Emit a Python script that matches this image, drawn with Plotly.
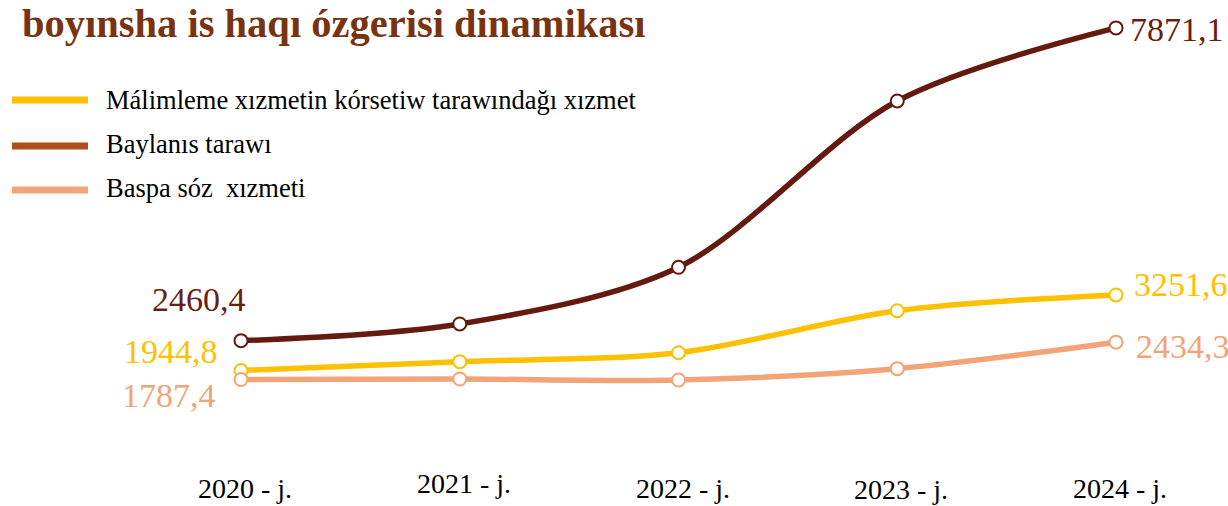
import plotly.graph_objects as go

years = ["2020 - j.", "2021 - j.", "2022 - j.", "2023 - j.", "2024 - j."]
info_service = [1944.8, 2097, 2252, 2979, 3251.6]   # Málimleme xızmetin kórsetiw tarawındağı xızmet
communication = [2460.4, 2749, 3730, 6607, 7871.1]  # Baylanıs tarawı
press_service = [1787.4, 1797, 1780, 1976, 2434.3]  # Baspa sóz  xızmeti

names = ["Málimleme xızmetin kórsetiw tarawındağı xızmet", "Baylanıs tarawı", "Baspa sóz  xızmeti"]
series = [info_service, communication, press_service]
line_colors = ["#FFC000", "#641A0F", "#F2A477"]
legend_colors = ["#FFC000", "#AF4E19", "#F2A477"]
label_colors = ["#FFC000", "#6B1D12", "#F2A477"]

title_text = "boyınsha is haqı ózgerisi dinamikası"

Y0, Y1 = -400, 8354
fig = go.Figure()
xs = list(range(len(years)))
for name, vals, col in zip(names, series, line_colors):
    fig.add_trace(go.Scatter(
        x=xs, y=vals, name=name, mode="lines+markers",
        line=dict(color=col, width=5.5, shape="spline", smoothing=0.9),
        marker=dict(size=13, color="white", line=dict(color=col, width=2)),
        showlegend=False, hoverinfo="skip",
    ))

def fmt(v):
    return f"{v:.1f}".replace(".", ",")

label_font = "Liberation Serif"
first_offsets = [(-21, 19), (7, 41), (-23, -16)]
last_offsets = [(16, 10), (12, -2), (18, -4)]
for vals, col, (fx, fy), (lx, ly) in zip(series, label_colors, first_offsets, last_offsets):
    fig.add_annotation(x=0, y=vals[0], text=fmt(vals[0]), showarrow=False,
                       xanchor="right", yanchor="middle",
                       xshift=fx, yshift=fy, font=dict(family=label_font, size=34, color=col))
    fig.add_annotation(x=4, y=vals[-1], text=fmt(vals[-1]), showarrow=False,
                       xanchor="left", yanchor="middle",
                       xshift=lx, yshift=ly, font=dict(family=label_font, size=34, color=col))

# x category labels (slightly staggered as in original)
tick_shift = [0, 5, 0, -1, 0]
tick_y = Y0 + (506 - 488) * 17.3
for i, (lab, dy) in enumerate(zip(years, tick_shift)):
    fig.add_annotation(x=i, y=tick_y, text=lab, showarrow=False,
                       yanchor="middle", yshift=dy, xshift=4, borderpad=0,
                       font=dict(family=label_font, size=28, color="black"))

# legend drawn manually
legend_y = [1 - 100/506, 1 - 146/506, 1 - 190/506]
text_y = [1 - 100/506, 1 - 144/506, 1 - 188/506]
shapes = []
for name, col, ly, ty in zip(names, legend_colors, legend_y, text_y):
    shapes.append(dict(type="line", xref="paper", yref="paper", x0=12/1228, x1=88/1228,
                       y0=ly, y1=ly, line=dict(color=col, width=7)))
    fig.add_annotation(xref="paper", yref="paper", x=104/1228, y=ty, text=name,
                       showarrow=False, xanchor="left", yanchor="middle",
                       font=dict(family="Liberation Serif", size=26.5, color="black"))

fig.add_annotation(xref="paper", yref="paper", x=20/1228, y=1 - 24/506, text=f"<b>{title_text}</b>",
                   showarrow=False, xanchor="left", yanchor="middle",
                   font=dict(family="Liberation Serif", size=40.5, color="#7A3311"))

fig.update_layout(
    width=1228, height=506,
    margin=dict(l=0, r=0, t=0, b=0),
    paper_bgcolor="white", plot_bgcolor="white",
    shapes=shapes,
    xaxis=dict(range=[-1.1017, 4.512], visible=False, fixedrange=True),
    yaxis=dict(range=[Y0, Y1], visible=False, fixedrange=True),
)

fig.write_html("out.html", config={"displayModeBar": False},
               post_script="document.body.style.margin='0';document.body.style.overflow='hidden';")
